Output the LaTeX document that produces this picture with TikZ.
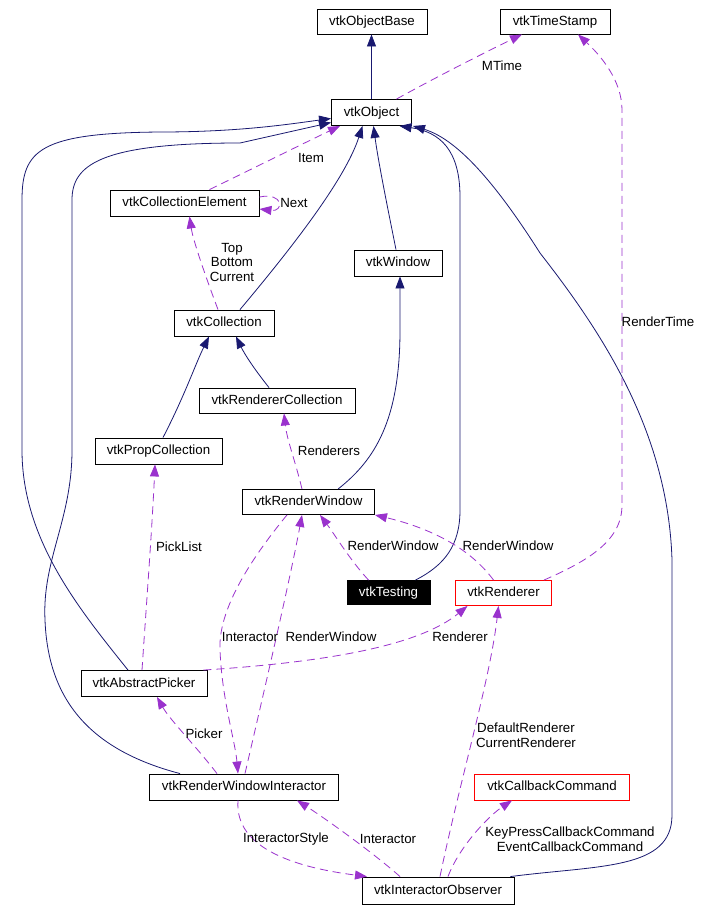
\documentclass[tikz,border=0pt]{standalone}
\usepackage{fontspec}
\setmainfont{Liberation Sans}
\usetikzlibrary{arrows.meta}
\definecolor{inhcol}{HTML}{191970}
\definecolor{usecol}{HTML}{9A32CD}

\begin{document}
\begin{tikzpicture}[x=1pt,y=-1pt,
  font=\fontsize{13.3}{14.5}\selectfont,
  cls/.style={draw,line width=0.9pt,inner sep=0pt,minimum height=26pt,minimum width=#1,text height=10pt,text depth=3pt},
  redcls/.style={cls=#1,draw=red},
  inh/.style={draw=inhcol,line width=0.8pt,-{Triangle[length=12pt,width=9pt]}},
  use/.style={draw=usecol,line width=0.8pt,dash pattern=on 8pt off 5pt,-{Triangle[length=12pt,width=9pt]}},
  lbl/.style={inner sep=0pt,align=center}]
\path[use as bounding box,fill=white] (0,0) rectangle (702,911);

\node[cls=110pt,minimum height=25pt] (objbase) at (372,21.5) {vtkObjectBase};
\node[cls=110pt,minimum height=25pt] (stamp) at (555,21.5) {vtkTimeStamp};
\node[cls=80pt] (obj) at (371.5,112.5) {vtkObject};
\node[cls=149pt] (elem) at (184.5,203) {vtkCollectionElement};
\node[cls=88pt] (win) at (398,263) {vtkWindow};
\node[cls=100pt] (coll) at (224,323) {vtkCollection};
\node[cls=156pt,minimum height=25pt] (rencoll) at (277,400.5) {vtkRendererCollection};
\node[cls=127pt] (propcoll) at (158.5,451) {vtkPropCollection};
\node[cls=132pt,minimum height=25pt] (renwin) at (308.5,502) {vtkRenderWindow};
\node[cls=83pt,minimum height=24pt,fill=black,text=white] (testing) at (388.5,592.5) {vtkTesting};
\node[redcls=96pt,minimum height=25pt] (ren) at (503.5,593) {vtkRenderer};
\node[cls=126pt] (picker) at (144,683.5) {vtkAbstractPicker};
\node[cls=189pt] (rwi) at (244,787) {vtkRenderWindowInteractor};
\node[redcls=155pt] (cbcmd) at (552,787) {vtkCallbackCommand};
\node[cls=152pt,minimum height=27pt] (obs) at (438,890.5) {vtkInteractorObserver};

\draw[inh] (obj.north) -- (obj.north |- objbase.south);
\draw[inh] ([xshift=-16pt]picker.north) .. controls (80,610) and (22,540) .. (22,450) -- (22,200)
  .. controls (22,150) and (40,133) .. (160,132) .. controls (240,132) and (290,124) .. ([yshift=-6pt]obj.west);
\draw[inh] ([xshift=-64pt]rwi.north) .. controls (90,750) and (48,700) .. (45,620)
  .. controls (42,560) and (72,520) .. (72,450) -- (72,200)
  .. controls (72,165) and (100,143) .. (240,143) -- ([yshift=-10pt]obj.west);
\draw[inh] ([xshift=16pt]coll.north) .. controls (290,250) and (345,180) .. ([xshift=-9pt]obj.south);
\draw[inh] ([xshift=-2pt]win.north) .. controls (388,210) and (378,160) .. ([xshift=2pt]obj.south);
\draw[inh] ([xshift=27pt]testing.north) .. controls (445,565) and (460,545) .. (460,510) -- (460,197)
  .. controls (460,150) and (440,132) .. ([xshift=28pt]obj.south);
\draw[inh] ([xshift=-4pt]obs.north east) .. controls (600,865) and (672,870) .. (672,815) -- (672,560)
  .. controls (668,430) and (600,330) .. (540,253) .. controls (500,190) and (460,140) .. ([xshift=1pt]obj.south east);
\draw[inh] ([xshift=4.5pt]propcoll.north) .. controls (185,395) and (195,365) .. ([xshift=-15pt]coll.south);
\draw[inh] ([xshift=-8pt]rencoll.north) .. controls (255,370) and (245,355) .. ([xshift=12pt]coll.south);
\draw[inh] ([xshift=29.5pt]renwin.north) .. controls (375,460) and (400,420) .. (400,330) -- ([xshift=2pt]win.south);

\draw[use] ([xshift=25pt]obj.north) .. controls (440,75) and (490,50) .. ([xshift=-33pt]stamp.south);
\node[lbl] (lmtime) at (502,66) {MTime};
\draw[use] ([xshift=-8pt]ren.north east) .. controls (590,560) and (622,540) .. (622,505) -- (622,110)
  .. controls (622,80) and (600,55) .. ([xshift=23pt]stamp.south);
\node[lbl] (lrendertime) at (658,322) {RenderTime};
\draw[use] ([xshift=25pt]elem.north) .. controls (250,170) and (300,145) .. ([xshift=9pt]obj.south west);
\node[lbl] (litem) at (311,158) {Item};
\draw[use] ([yshift=6pt]elem.east) .. controls (284,192) and (284,212) .. ([yshift=-6pt]elem.east);
\node[lbl] (lnext) at (294,203) {Next};
\draw[use] ([xshift=-6pt]coll.north) .. controls (205,275) and (193,240) .. ([xshift=5pt]elem.south);
\node[lbl] (ltop) at (232,262) {Top\\Bottom\\Current};
\draw[use] ([xshift=-6.5pt]renwin.north) .. controls (295,460) and (287,440) .. ([xshift=7pt]rencoll.south);
\node[lbl] (lrenderers) at (329,451) {Renderers};
\draw[use] ([xshift=-2pt]picker.north) .. controls (146,610) and (152,530) .. ([xshift=-3.5pt]propcoll.south);
\node[lbl] (lpicklist) at (179,547) {PickList};
\draw[use] ([xshift=-20pt]testing.north) .. controls (350,560) and (335,535) .. ([xshift=11.5pt]renwin.south);
\node[lbl] (lrwtest) at (393,546) {RenderWindow};
\draw[use] ([xshift=-10pt]ren.north) .. controls (470,548) and (430,528) .. (renwin.south east);
\node[lbl] (lrwren) at (508,546) {RenderWindow};
\draw[use] ([xshift=1pt]rwi.north) .. controls (262,700) and (290,580) .. ([xshift=-6.5pt]renwin.south);
\node[lbl] (lrwrwi) at (331,637) {RenderWindow};
\draw[use] ([xshift=-21.5pt]renwin.south) .. controls (250,560) and (218,610) .. (220,650)
  .. controls (222,700) and (235,740) .. ([xshift=-6pt]rwi.north);
\node[lbl] (linteractor) at (250,637) {Interactor};
\draw[use] ([xshift=-4pt]picker.north east) .. controls (330,662) and (420,645) .. ([xshift=-36pt]ren.south);
\node[lbl] (lrenderer) at (460,637) {Renderer};
\draw[use] ([xshift=-27pt]rwi.north) .. controls (195,745) and (170,720) .. ([xshift=13pt]picker.south);
\node[lbl] (lpicker) at (204,734) {Picker};
\draw[use] ([xshift=2pt]obs.north) .. controls (460,780) and (490,680) .. ([xshift=-5pt]ren.south);
\node[lbl] (ldefren) at (526,735) {DefaultRenderer\\CurrentRenderer};
\draw[use] ([xshift=10pt]obs.north) .. controls (460,845) and (490,815) .. ([xshift=-40pt]cbcmd.south);
\node[lbl] (lkeypress) at (570,839) {KeyPressCallbackCommand\\EventCallbackCommand};
\draw[use] ([xshift=-6pt]rwi.south) .. controls (234,850) and (300,868) .. ([xshift=-71pt]obs.north);
\node[lbl] (lstyle) at (286,839) {InteractorStyle};
\draw[use] ([xshift=-38pt]obs.north) .. controls (370,850) and (320,815) .. ([xshift=53pt]rwi.south);
\node[lbl] (lobsrwi) at (388,839) {Interactor};
\end{tikzpicture}
\end{document}
